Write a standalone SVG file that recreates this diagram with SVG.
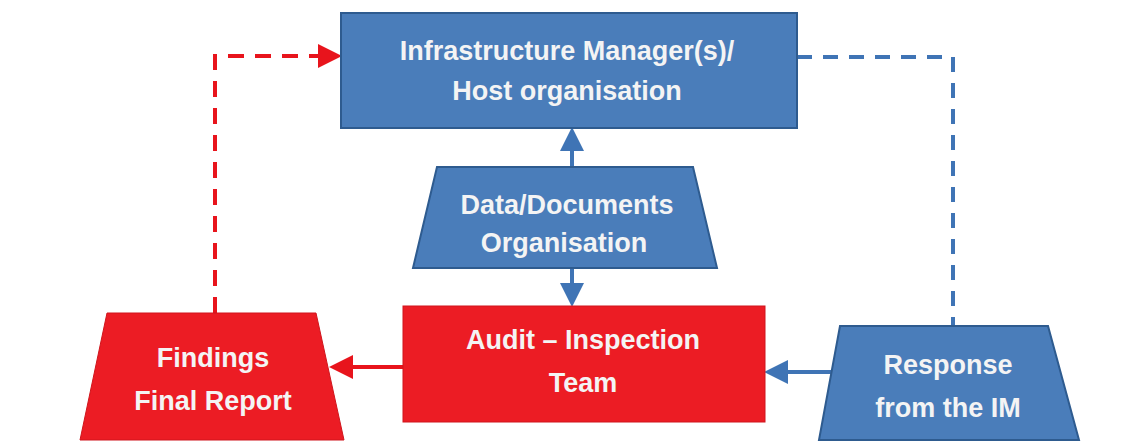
<svg xmlns="http://www.w3.org/2000/svg" width="1145" height="442" viewBox="0 0 1145 442">
<style>
.blue{fill:#4a7dba;stroke:#2e5b8f;stroke-width:2}
.red{fill:#ec1c24;stroke:#d0151c;stroke-width:1}
.t{font-family:"Liberation Sans",Arial,sans-serif;font-weight:bold;font-size:27px;fill:#f4f4f4;text-anchor:middle}
.cb{stroke:#3f74b5;stroke-width:4;fill:none}
.cr{stroke:#e8141c;stroke-width:4;fill:none}
</style>
<defs>
<marker id="ab" markerWidth="6" markerHeight="6" refX="5" refY="3" orient="auto" markerUnits="strokeWidth"><path d="M0,0 L6,3 L0,6 z" fill="#3f74b5"/></marker>
<marker id="ar" markerWidth="6" markerHeight="6" refX="5" refY="3" orient="auto" markerUnits="strokeWidth"><path d="M0,0 L6,3 L0,6 z" fill="#e8141c"/></marker>
</defs>
<rect width="1145" height="442" fill="#ffffff"/>
<g id="connectors">
<path class="cb" d="M572,167 L572,131" marker-end="url(#ab)"/>
<path class="cb" d="M572,268 L572,303" marker-end="url(#ab)"/>
<path class="cr" d="M403,367 L333,367" marker-end="url(#ar)"/>
<path class="cb" d="M838,372 L768,372" marker-end="url(#ab)"/>
<path class="cr" d="M215,313 L215,56 L338,56" stroke-dasharray="16,11" marker-end="url(#ar)"/>
<path class="cb" d="M797,57 L953,57 L953,326" stroke-width="3" stroke-dasharray="15,11"/>
</g>
<g id="infra">
<rect class="blue" x="341" y="13" width="456" height="115"/>
<text class="t" x="567" y="60">Infrastructure Manager(s)/</text>
<text class="t" x="567" y="100">Host organisation</text>
</g>
<g id="data">
<polygon class="blue" points="437,167 693,167 717,268 413,268"/>
<text class="t" x="567" y="214">Data/Documents</text>
<text class="t" x="564" y="252">Organisation</text>
</g>
<g id="audit">
<rect class="red" x="403" y="306" width="362" height="116"/>
<text class="t" x="583" y="349">Audit – Inspection</text>
<text class="t" x="583" y="392">Team</text>
</g>
<g id="findings">
<polygon class="red" points="107,313 316,313 344,440 80,440"/>
<text class="t" x="213" y="367">Findings</text>
<text class="t" x="213" y="410">Final Report</text>
</g>
<g id="response">
<polygon class="blue" points="840,326 1048,326 1079,440 819,440"/>
<text class="t" x="948" y="374">Response</text>
<text class="t" x="948" y="417">from the IM</text>
</g>
</svg>
